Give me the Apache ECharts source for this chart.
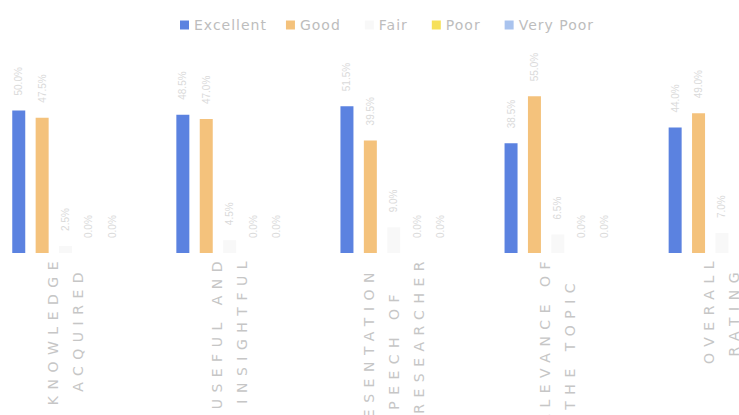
<!DOCTYPE html>
<html>
<head>
<meta charset="utf-8">
<script src="https://cdn.jsdelivr.net/npm/echarts@6/dist/echarts.min.js"></script>
<style>
  html, body { margin: 0; padding: 0; background: #fff; }
  #chart { width: 739px; height: 415px; }
  /* wide letter spacing on the category labels (svg renderer) */
  #chart text { white-space: pre; }
  #chart text[fill="#c6c6c6"], #chart text[fill="rgb(198,198,198)"] { letter-spacing: 6.5px; }
  #chart text[fill="#bdbdbd"], #chart text[fill="rgb(189,189,189)"] { letter-spacing: 1px; }
</style>
</head>
<body>
<div id="chart"></div>
<script>
const categories = ['KNOWLEDGE\nACQUIRED', 'USEFUL AND\nINSIGHTFUL', 'PRESENTATION\nSPEECH OF\nTHE RESEARCHER', 'RELEVANCE OF\nTHE TOPIC', 'OVERALL\nRATING'];
const seriesNames = ['Excellent', 'Good', 'Fair', 'Poor', 'Very Poor'];
const excellent = [50.0, 48.5, 51.5, 38.5, 44.0];
const good = [47.5, 47.0, 39.5, 55.0, 49.0];
const fair = [2.5, 4.5, 9.0, 6.5, 7.0];
const poor = [0, 0, 0, 0, 0];
const veryPoor = [0, 0, 0, 0, 0];
const colors = ['#5b82e0', '#f4c27c', '#f8f8f8', '#f6e05a', '#a9c3ee'];

// center the lines of a label by padding with trailing spaces
function padLines(text) {
  const lines = text.split('\n');
  const max = Math.max(...lines.map(l => l.length));
  return lines.map(l => l + ' '.repeat(Math.round((max - l.length) * 0.68))).join('\n');
}

const chart = echarts.init(document.getElementById('chart'), null, { renderer: 'svg' });

const valueLabel = {
  show: true,
  position: 'top',
  rotate: 90,
  align: 'left',
  verticalAlign: 'middle',
  distance: 15,
  fontSize: 10,
  color: '#dadada',
  formatter: p => p.value.toFixed(1) + '%'
};

chart.setOption({
  animation: false,
  color: colors,
  legend: {
    top: 13,
    left: 175,
    itemWidth: 9,
    itemHeight: 9,
    itemGap: 28,
    icon: 'rect',
    textStyle: { color: '#bdbdbd', fontSize: 14, fontFamily: 'DejaVu Sans' },
    data: seriesNames
  },
  grid: { left: -16.5, right: -65, top: 82, bottom: 162, outerBoundsMode: 'none', containLabel: false },
  xAxis: {
    type: 'category',
    data: categories,
    axisLine: { show: false },
    axisTick: { show: false },
    axisLabel: {
      interval: 0,
      rotate: 90,
      margin: 2,
      fontSize: 14,
      lineHeight: 25,
      fontFamily: 'DejaVu Sans',
      color: '#c6c6c6',
      formatter: padLines
    }
  },
  yAxis: { type: 'value', min: 0, max: 60, show: false, splitLine: { show: false } },
  series: [
    { name: 'Excellent', type: 'bar', data: excellent, barWidth: 13, barGap: '80%', label: valueLabel },
    { name: 'Good', type: 'bar', data: good, barWidth: 13, label: valueLabel },
    { name: 'Fair', type: 'bar', data: fair, barWidth: 13, label: valueLabel },
    { name: 'Poor', type: 'bar', data: poor, barWidth: 13, label: valueLabel },
    { name: 'Very Poor', type: 'bar', data: veryPoor, barWidth: 13, label: valueLabel }
  ]
});
</script>
</body>
</html>
